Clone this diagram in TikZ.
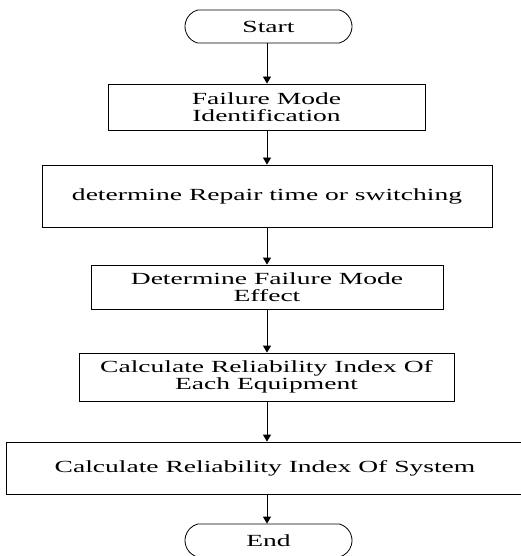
\documentclass[tikz,border=0pt]{standalone}
\usepackage{fontspec}
\setmainfont{Liberation Serif}[FakeStretch=1.62]
\usetikzlibrary{arrows.meta,shapes.misc}
\begin{document}
\begin{tikzpicture}[x=1pt,y=-1pt,
  every node/.style={font=\fontsize{17}{17}\selectfont, align=center, inner sep=0pt},
  box/.style={draw, line width=0.8pt, rectangle},
  term/.style={draw, line width=0.8pt, rounded rectangle, rounded rectangle arc length=150, minimum width=167pt, minimum height=33pt},
  flow/.style={draw, line width=0.8pt, -{Triangle[width=8pt,length=7pt]}}]
\useasboundingbox (0,0) rectangle (521,556);
\node[term] (start) at (268.5,26.5) {Start};
\node[box, minimum width=317pt, minimum height=46pt] (b1) at (266.5,107) {Failure Mode\\Identification};
\node[box, minimum width=450pt, minimum height=62pt] (b2) at (267,196) {determine Repair time or switching};
\node[box, minimum width=352pt, minimum height=44pt] (b3) at (267,287) {Determine Failure Mode\\Effect};
\node[box, minimum width=375pt, minimum height=48pt] (b4) at (266.5,377) {Calculate Reliability Index Of\\Each Equipment};
\node[box, minimum width=518pt, minimum height=52pt] (b5) at (265,468) {Calculate Reliability Index Of System};
\node[term] (end) at (268.5,540.5) {End};
\coordinate (x0) at (267,0);
\draw[flow] (start.south -| x0) -- (b1.north -| x0);
\draw[flow] (b1.south -| x0) -- (b2.north -| x0);
\draw[flow] (b2.south -| x0) -- (b3.north -| x0);
\draw[flow] (b3.south -| x0) -- (b4.north -| x0);
\draw[flow] (b4.south -| x0) -- (b5.north -| x0);
\draw[flow] (b5.south -| x0) -- (end.north -| x0);
\end{tikzpicture}
\end{document}
